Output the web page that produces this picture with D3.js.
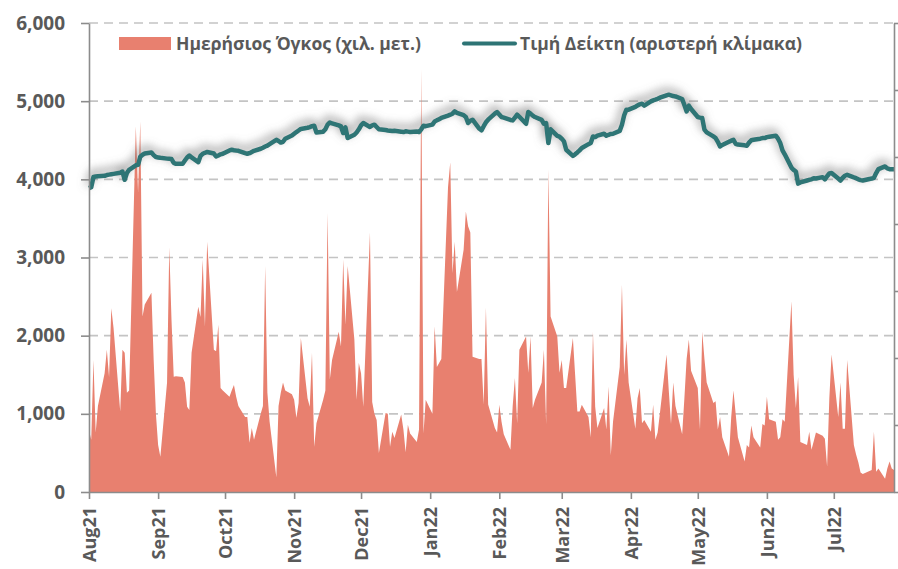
<!DOCTYPE html>
<html>
<head>
<meta charset="utf-8">
<script src="https://cdn.jsdelivr.net/npm/d3@7"></script>
<style>
  body { margin: 0; background: #fff; }
  svg { display: block; }
  svg text { font-family: "Open Sans", "Noto Sans", sans-serif; }
</style>
</head>
<body>
<svg id="chart" width="898" height="569"></svg>
<script>
// daily values, one per weekday, by month
const volAug = [790, 670, 1690, 760, 1100, 1520, 1820, 1470, 2350, 2100, 1030, 1820, 1780, 1270, 1300, 4680, 3830, 4740, 2245, 2400, 2550, 1690];
const volSep = [1000, 600, 450, 1400, 3130, 2200, 1474, 1480, 1470, 1400, 1090, 1050, 1780, 2370, 2240, 2975, 2115, 3200, 1820, 1800, 2140, 1330];
const volOct = [1300, 1220, 1300, 1370, 1220, 1100, 960, 960, 630, 820, 670, 1000, 1100, 2890, 1270, 900, 190, 1100, 1270, 1400, 1300];
const volNov = [1250, 1180, 950, 1140, 1970, 1200, 1090, 1780, 580, 880, 1180, 1300, 3570, 1440, 1690, 2050, 1860, 2975, 2140, 2890, 1950, 1180];
const volDec = [1650, 1520, 1090, 3320, 1150, 1000, 920, 500, 1010, 1000, 580, 770, 690, 990, 800, 510, 860, 750, 640, 800, 5410, 750, 1180];
const volJan = [1000, 2120, 1600, 1650, 1700, 3900, 4220, 2800, 3200, 2560, 3100, 3590, 3400, 3320, 1730, 1700, 1700, 1120, 2360, 1120, 820];
const volFeb = [760, 1115, 900, 740, 540, 1100, 1460, 880, 1820, 1990, 1526, 1990, 1075, 1180, 1400, 1820, 870, 4130, 2245, 1990];
const volMar = [1526, 1690, 1330, 1330, 1970, 1500, 1030, 1030, 1115, 960, 700, 2050, 1090, 820, 1075, 800, 1350, 470, 900, 1600, 2650, 1500, 1950];
const volApr = [1400, 810, 1200, 1330, 880, 920, 770, 1115, 670, 760, 1000, 1760, 1300, 870, 1400, 1100, 740, 1200, 1700, 1950, 1550];
const volMay = [1330, 800, 2050, 1700, 1400, 1140, 1160, 800, 960, 700, 450, 960, 1300, 1000, 700, 390, 600, 570, 850, 700, 570, 870];
const volJun = [850, 1220, 930, 900, 670, 700, 930, 900, 2440, 1500, 1075, 1470, 640, 600, 770, 540, 650, 760, 720, 680, 325, 1200];
const volJul = [1760, 960, 1400, 810, 810, 1690, 600, 480, 380, 250, 230, 270, 280, 770, 260, 300, 170, 300, 390, 300, 280];

const idxAug = [3887, 3900, 4030, 4036, 4040, 4045, 4055, 4060, 4065, 4070, 4085, 4100, 3994, 4080, 4122, 4180, 4186, 4290, 4314, 4330, 4344, 4310];
const idxSep = [4285, 4280, 4275, 4265, 4262, 4259, 4210, 4199, 4199, 4240, 4280, 4305, 4280, 4220, 4300, 4327, 4340, 4350, 4330, 4293, 4305, 4320];
const idxOct = [4327, 4370, 4378, 4372, 4368, 4365, 4335, 4327, 4335, 4350, 4365, 4391, 4405, 4420, 4432, 4450, 4506, 4490, 4470, 4480, 4520];
const idxNov = [4560, 4583, 4605, 4625, 4645, 4660, 4669, 4680, 4686, 4600, 4610, 4640, 4700, 4728, 4715, 4690, 4677, 4592, 4664, 4528, 4570, 4600];
const idxDec = [4640, 4690, 4720, 4670, 4690, 4699, 4670, 4640, 4630, 4625, 4622, 4618, 4622, 4610, 4605, 4615, 4610, 4605, 4613, 4605, 4640, 4686, 4680];
const idxJan = [4700, 4741, 4755, 4770, 4785, 4815, 4827, 4840, 4869, 4850, 4820, 4797, 4720, 4750, 4763, 4650, 4626, 4680, 4730, 4763, 4840];
const idxFeb = [4861, 4830, 4797, 4790, 4760, 4754, 4790, 4827, 4800, 4711, 4861, 4840, 4815, 4797, 4760, 4711, 4720, 4464, 4640, 4555];
const idxMar = [4545, 4520, 4485, 4378, 4300, 4320, 4344, 4370, 4400, 4450, 4464, 4549, 4541, 4560, 4583, 4558, 4570, 4580, 4583, 4620, 4699, 4820, 4891];
const idxApr = [4891, 4926, 4945, 4960, 4968, 4942, 4997, 5010, 5019, 5030, 5045, 5075, 5083, 5075, 5065, 5061, 5028, 4950, 4869, 4942, 4900];
const idxMay = [4797, 4790, 4784, 4635, 4600, 4549, 4528, 4480, 4421, 4440, 4480, 4495, 4506, 4455, 4445, 4435, 4429, 4470, 4500, 4506, 4520, 4528];
const idxJun = [4528, 4540, 4545, 4558, 4520, 4464, 4370, 4320, 4150, 4120, 4100, 3945, 3960, 3985, 3994, 4000, 4015, 4010, 4028, 4000, 4040, 4075];
const idxJul = [4080, 4010, 3985, 4020, 4045, 4058, 4025, 4015, 4000, 3990, 3985, 4005, 4010, 4020, 4080, 4130, 4165, 4140, 4130, 4130, 4130];

const yTicks = [0, 1000, 2000, 3000, 4000, 5000, 6000];
const monthLabels = ["Aug21", "Sep21", "Oct21", "Nov21", "Dec21", "Jan22", "Feb22", "Mar22", "Apr22", "May22", "Jun22", "Jul22"];
const legendVolume = "Ημερήσιος Όγκος (χιλ. μετ.)";
const legendIndex = "Τιμή Δείκτη (αριστερή κλίμακα)";

const volume = [].concat(volAug, volSep, volOct, volNov, volDec, volJan, volFeb, volMar, volApr, volMay, volJun, volJul);
const index = [].concat(idxAug, idxSep, idxOct, idxNov, idxDec, idxJan, idxFeb, idxMar, idxApr, idxMay, idxJun, idxJul);

// trading days = weekdays from 2 Aug 2021 to 29 Jul 2022
const days = d3.timeDay.range(new Date(2021, 7, 2), new Date(2022, 6, 30))
    .filter(d => d.getDay() !== 0 && d.getDay() !== 6);

const data = days.map((d, i) => ({date: d, vol: volume[i], idx: index[i]}));

const colors = {area: "#E8806F", line: "#2D7475", grid: "#C4C4C4", axis: "#8C8C8C", text: "#595959"};
const font = '"Open Sans", "Noto Sans", sans-serif';

const margin = {top: 23, right: 4, bottom: 77, left: 89};
const width = 898, height = 569;
const svg = d3.select("#chart");

const x = d3.scaleTime()
    .domain([days[0], days[days.length - 1]])
    .range([margin.left, width - margin.right]);

const y = d3.scaleLinear()
    .domain([0, 6000])
    .range([height - margin.bottom, margin.top]);

// shadow under the index line
const defs = svg.append("defs");
defs.append("filter")
    .attr("id", "lineShadow")
    .attr("x", "-5%").attr("y", "-60%").attr("width", "110%").attr("height", "220%")
    .append("feDropShadow")
    .attr("dx", -2).attr("dy", -4)
    .attr("stdDeviation", 5)
    .attr("flood-color", "#6e6e6e")
    .attr("flood-opacity", 0.8);

// gridlines
svg.append("g")
    .selectAll("line")
    .data(yTicks.filter(d => d > 0))
    .join("line")
    .attr("x1", margin.left).attr("x2", width - margin.right)
    .attr("y1", d => y(d)).attr("y2", d => y(d))
    .attr("stroke", colors.grid)
    .attr("stroke-width", 1.6)
    .attr("stroke-dasharray", "9,6");

// volume area
const area = d3.area()
    .x(d => x(d.date))
    .y0(y(0))
    .y1(d => y(d.vol));

svg.append("path")
    .datum(data)
    .attr("fill", colors.area)
    .attr("d", area);

// index line
const line = d3.line()
    .x(d => x(d.date))
    .y(d => y(d.idx));

svg.append("path")
    .datum(data)
    .attr("fill", "none")
    .attr("stroke", colors.line)
    .attr("stroke-width", 4.5)
    .attr("stroke-linejoin", "round")
    .attr("filter", "url(#lineShadow)")
    .attr("d", line);

// left axis
const yAxis = svg.append("g")
    .attr("transform", "translate(" + margin.left + ",0)")
    .call(d3.axisLeft(y).tickValues(yTicks).tickFormat(d3.format(",")).tickSize(8).tickSizeOuter(0).tickPadding(16));
yAxis.attr("font-family", font);
yAxis.select(".domain").attr("stroke", colors.axis).attr("stroke-width", 1.6);
yAxis.selectAll(".tick line").attr("stroke", colors.axis).attr("stroke-width", 1.6);
yAxis.selectAll("text")
    .attr("fill", colors.text)
    .style("font-size", "19px")
    .style("font-weight", "bold");

// right axis (no labels, 7 intervals)
const yRight = d3.scaleLinear().domain([0, 7]).range(y.range());
const rAxis = svg.append("g")
    .attr("transform", "translate(" + (width - margin.right) + ",0)")
    .call(d3.axisRight(yRight).ticks(7).tickSize(5).tickSizeOuter(0).tickFormat(""));
rAxis.select(".domain").attr("stroke", colors.axis).attr("stroke-width", 1.6);
rAxis.selectAll(".tick line").attr("stroke", colors.axis).attr("stroke-width", 1.6);

// bottom axis, month ticks
const monthTicks = d3.timeMonth.range(new Date(2021, 7, 1), new Date(2022, 6, 2))
    .map(d => d3.timeDay.offset(d, 1));
const xAxis = svg.append("g")
    .attr("transform", "translate(0," + y(0) + ")")
    .call(d3.axisBottom(x).tickValues(monthTicks).tickFormat((d, i) => monthLabels[i]).tickSize(7).tickSizeOuter(0));
xAxis.attr("font-family", font);
xAxis.select(".domain").attr("stroke", colors.axis).attr("stroke-width", 1.6);
xAxis.selectAll(".tick line").attr("stroke", colors.axis).attr("stroke-width", 1.6);
xAxis.selectAll("text")
    .attr("fill", colors.text)
    .style("font-size", "18px")
    .style("font-weight", "bold")
    .attr("text-anchor", "end")
    .attr("transform", "translate(0,15) rotate(-90)")
    .attr("x", 0).attr("y", 0).attr("dy", "0.35em");

// legend
const legend = svg.append("g").attr("font-family", font);
legend.append("rect")
    .attr("x", 119).attr("y", 37).attr("width", 52).attr("height", 13)
    .attr("fill", colors.area);
legend.append("text")
    .attr("x", 176).attr("y", 50)
    .attr("fill", colors.text)
    .style("font-size", "17.5px")
    .style("font-weight", "bold")
    .text(legendVolume);
legend.append("line")
    .attr("x1", 464).attr("x2", 515).attr("y1", 43.5).attr("y2", 43.5)
    .attr("stroke", colors.line).attr("stroke-width", 4).attr("stroke-linecap", "round");
legend.append("text")
    .attr("x", 520).attr("y", 50)
    .attr("fill", colors.text)
    .style("font-size", "17.5px")
    .style("font-weight", "bold")
    .text(legendIndex);
</script>
</body>
</html>
